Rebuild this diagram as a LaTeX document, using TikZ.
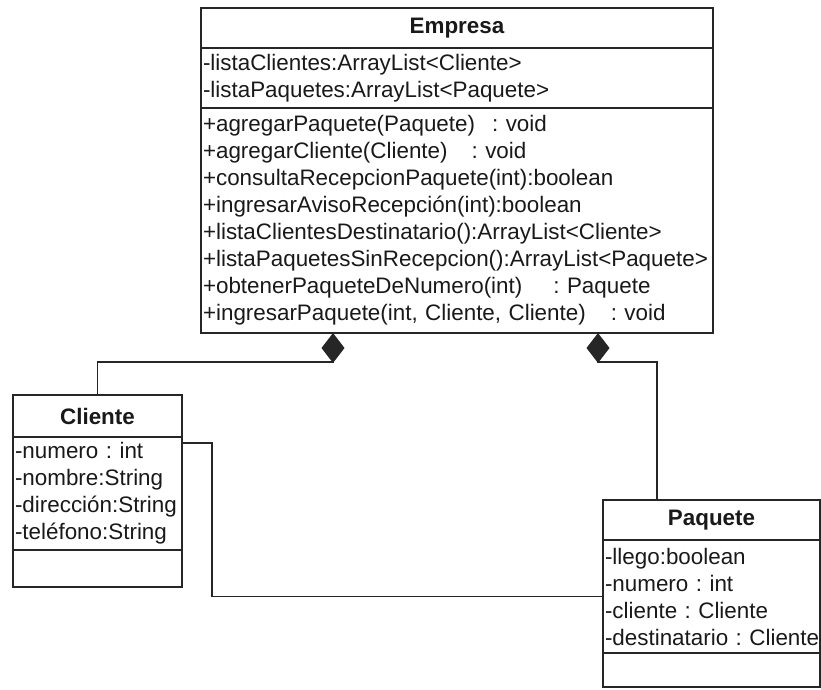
\documentclass[tikz,border=0pt]{standalone}
\usepackage{fontspec}
\setmainfont{Liberation Sans}
\usepackage{tikz}
\usetikzlibrary{arrows.meta,positioning}

\begin{document}
\frenchspacing
\begin{tikzpicture}[
  x=1pt, y=-1pt,
  cls/.style={draw=black!85, line width=1.5pt, outer sep=0pt, inner sep=0pt,
              font=\fontsize{22.4}{27}\selectfont\bfseries, text=black!90},
  sect/.style={draw=black!85, line width=1.5pt, outer sep=0pt, inner xsep=2pt,
               inner ysep=0pt, align=left, font=\fontsize{22.4}{27}\selectfont,
               text=black!90},
  comp/.style={{Diamond[length=30pt,width=23pt]}-, line width=1.5pt, draw=black!85},
  assoc/.style={line width=1.5pt, draw=black!85},
  node distance=0pt
]
\useasboundingbox (0,0) rectangle (821,689);

\node[cls, minimum width=512pt, minimum height=40pt] (emp) at (457,28) {Empresa};
\node[sect, below=of emp, text width=508pt, minimum height=60pt] (empat)
  {-listaClientes:ArrayList<Cliente>\\-listaPaquetes:ArrayList<Paquete>};
\node[sect, below=of empat, text width=508pt, minimum height=225pt] (empop)
  {+agregarPaquete(Paquete)\hspace{17pt}: void\\
   +agregarCliente(Cliente)\hspace{24pt}: void\\
   +consultaRecepcionPaquete(int):boolean\\
   +ingresarAvisoRecepción(int):boolean\\
   +listaClientesDestinatario():ArrayList<Cliente>\\
   +listaPaquetesSinRecepcion():ArrayList<Paquete>\\
   +obtenerPaqueteDeNumero(int)\hspace{31pt}: Paquete\\
   +ingresarPaquete(int, Cliente, Cliente)\hspace{25pt}: void};

\node[cls, minimum width=169pt, minimum height=42pt] (cli) at (97.5,416) {Cliente};
\node[sect, below=of cli, text width=165pt, minimum height=113pt] (cliat)
  {-numero : int\\-nombre:String\\-dirección:String\\-teléfono:String};
\node[sect, below=of cliat, text width=165pt, minimum height=37pt] (cliop) {};

\node[cls, minimum width=217pt, minimum height=40pt] (paq) at (711.5,520) {Paquete};
\node[sect, below=of paq, text width=213pt, minimum height=113pt] (paqat)
  {-llego:boolean\\-numero : int\\-cliente : Cliente\\\mbox{-destinatario : Cliente}};
\node[sect, below=of paqat, text width=213pt, minimum height=34pt] (paqop) {};

\draw[comp] ([xshift=-124pt]empop.south) -- ++(0,29) -| (cli.north);
\draw[comp] ([xshift=141pt]empop.south) -- ++(0,29) -| ([xshift=-54.5pt]paq.north);
\draw[assoc] ([yshift=-6pt]cliat.north east) -- ++(30,0) |- (paqat.west);
\end{tikzpicture}
\end{document}
